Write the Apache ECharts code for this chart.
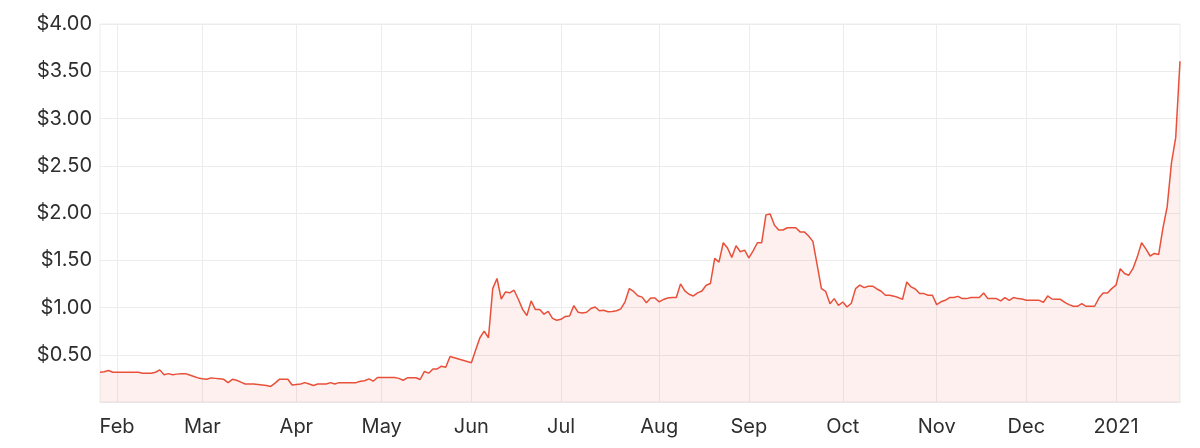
<!DOCTYPE html>
<html>
<head>
<meta charset="utf-8">
<script src="https://cdn.jsdelivr.net/npm/echarts@6/dist/echarts.min.js"></script>
<style>
  html, body { margin: 0; padding: 0; background: #ffffff; }
  #chart { width: 1200px; height: 448px; }
</style>
</head>
<body>
<div id="chart"></div>
<script>
// Trading-day calendar (ASX) for the category axis
const startDate = '2020-01-28';
const endDate = '2021-01-25';
const holidays = ['2020-04-10', '2020-04-13', '2020-06-08', '2020-12-25', '2020-12-28', '2021-01-01'];

// Tick labels shown on the first trading day of each month
const monthLabels = {
  '2020-02': 'Feb', '2020-03': 'Mar', '2020-04': 'Apr', '2020-05': 'May',
  '2020-06': 'Jun', '2020-07': 'Jul', '2020-08': 'Aug', '2020-09': 'Sep',
  '2020-10': 'Oct', '2020-11': 'Nov', '2020-12': 'Dec', '2021-01': '2021'
};

// Closing prices ($), one per trading day; null = no trading (halt)
const pricesJanMar = [
  0.315, 0.32, 0.333, 0.315, 0.315, 0.315, 0.315, 0.315, 0.315, 0.315,
  0.305, 0.305, 0.305, 0.315, 0.34, 0.288, 0.30, 0.288, 0.295, 0.30,
  0.30, 0.285, 0.27, 0.255
];
const pricesMarMay = [
  0.245, 0.24, 0.255, 0.25, 0.245, 0.24, 0.205, 0.24, 0.23, 0.21,
  0.19, 0.19, 0.19, 0.185, 0.18, 0.175, 0.165, 0.20, 0.24, 0.24,
  0.24, 0.18, 0.185, 0.19, 0.205, 0.19, 0.174, 0.19, 0.19, 0.19,
  0.205, 0.19, 0.205, 0.205, 0.205, 0.205, 0.205, 0.22, 0.225, 0.245,
  0.22, 0.259
];
const pricesMayJul = [
  0.259, 0.259, 0.259, 0.259, 0.25, 0.23, 0.256, 0.256, 0.256, 0.238,
  0.323, 0.305, 0.35, 0.35, 0.379, 0.368, 0.482, null, null, null,
  null, 0.415, 0.55, 0.68, 0.75, 0.68, 1.20, 1.307, 1.09, 1.165,
  1.155, 1.183, 1.087, 0.98, 0.915, 1.07, 0.978, 0.978, 0.93, 0.96,
  0.885, 0.865
];
const pricesJulSep = [
  0.875, 0.905, 0.91, 1.02, 0.95, 0.942, 0.95, 0.99, 1.005, 0.965,
  0.97, 0.955, 0.957, 0.965, 0.985, 1.06, 1.20, 1.17, 1.125, 1.11,
  1.05, 1.10, 1.10, 1.06, 1.085, 1.10, 1.105, 1.105, 1.25, 1.175,
  1.14, 1.122, 1.155, 1.175, 1.236, 1.254, 1.52, 1.48, 1.685, 1.63,
  1.53, 1.653, 1.59, 1.607
];
const pricesSepNov = [
  1.526, 1.60, 1.685, 1.685, 1.98, 1.99, 1.87, 1.82, 1.82, 1.844,
  1.844, 1.844, 1.80, 1.80, 1.756, 1.70, 1.45, 1.20, 1.17, 1.04,
  1.094, 1.023, 1.058, 1.005, 1.045, 1.20, 1.236, 1.21, 1.225, 1.225,
  1.196, 1.172, 1.13, 1.13, 1.12, 1.105, 1.087, 1.271, 1.218, 1.196,
  1.147, 1.147, 1.13, 1.13
];
const pricesNovJan = [
  1.03, 1.06, 1.076, 1.105, 1.105, 1.118, 1.094, 1.094, 1.105, 1.105,
  1.105, 1.154, 1.094, 1.094, 1.094, 1.07, 1.105, 1.076, 1.105, 1.094,
  1.09, 1.076, 1.076, 1.076, 1.076, 1.055, 1.122, 1.09, 1.087, 1.087,
  1.055, 1.03, 1.013, 1.013, 1.041, 1.013, 1.013, 1.013, 1.10, 1.154,
  1.154, 1.20
];
const pricesJan21 = [
  1.236, 1.41, 1.36, 1.342, 1.413, 1.536, 1.685, 1.62, 1.545, 1.572,
  1.56, 1.84, 2.067, 2.53, 2.80, 3.606
];

const prices = [].concat(pricesJanMar, pricesMarMay, pricesMayJul, pricesJulSep, pricesSepNov, pricesNovJan, pricesJan21);

// Build trading-day categories
function pad(n) { return n < 10 ? '0' + n : '' + n; }
function fmt(d) { return d.getUTCFullYear() + '-' + pad(d.getUTCMonth() + 1) + '-' + pad(d.getUTCDate()); }
const categories = [];
(function () {
  const d = new Date(startDate + 'T00:00:00Z');
  const end = new Date(endDate + 'T00:00:00Z');
  while (d <= end) {
    const wd = d.getUTCDay();
    const s = fmt(d);
    if (wd !== 0 && wd !== 6 && holidays.indexOf(s) < 0) categories.push(s);
    d.setUTCDate(d.getUTCDate() + 1);
  }
})();

// index of first trading day of each month
const monthStartIdx = {};
categories.forEach(function (c, i) {
  const ym = c.slice(0, 7);
  if (monthLabels[ym] && monthStartIdx[ym] === undefined) monthStartIdx[ym] = i;
});
function isMonthStart(i) {
  const ym = categories[i].slice(0, 7);
  return monthStartIdx[ym] === i;
}

const chart = echarts.init(document.getElementById('chart'), null, { renderer: 'canvas' });
const fontFamily = 'Inter, "Open Sans", sans-serif';

chart.setOption({
  animation: false,
  backgroundColor: '#ffffff',
  grid: {
    left: 100, right: 20, top: 24, bottom: 46,
    show: true, borderColor: '#ececec', borderWidth: 1
  },
  xAxis: {
    type: 'category',
    data: categories,
    boundaryGap: false,
    axisLine: { show: true, lineStyle: { color: '#e6e6e6', width: 1 } },
    axisTick: { show: false },
    axisLabel: {
      interval: function (i) { return isMonthStart(i); },
      formatter: function (v) { return monthLabels[v.slice(0, 7)] || ''; },
      color: '#2e2e2e',
      fontSize: 20,
      fontFamily: fontFamily,
      margin: 15
    },
    splitLine: {
      show: true,
      interval: function (i) { return isMonthStart(i); },
      lineStyle: { color: '#ececec', width: 1 }
    }
  },
  yAxis: {
    type: 'value',
    min: 0, max: 4, interval: 0.5,
    axisLine: { show: false },
    axisTick: { show: false },
    axisLabel: {
      formatter: function (v) { return v === 0 ? '' : '$' + v.toFixed(2); },
      color: '#2e2e2e',
      fontSize: 20,
      fontFamily: fontFamily,
      margin: 8
    },
    splitLine: { show: true, lineStyle: { color: '#ececec', width: 1 } }
  },
  series: [{
    type: 'line',
    data: prices,
    connectNulls: true,
    showSymbol: false,
    symbol: 'none',
    smooth: false,
    lineStyle: { color: '#e8503a', width: 1.5 },
    areaStyle: { color: 'rgba(232,80,58,0.12)' }
  }]
});
</script>
</body>
</html>
